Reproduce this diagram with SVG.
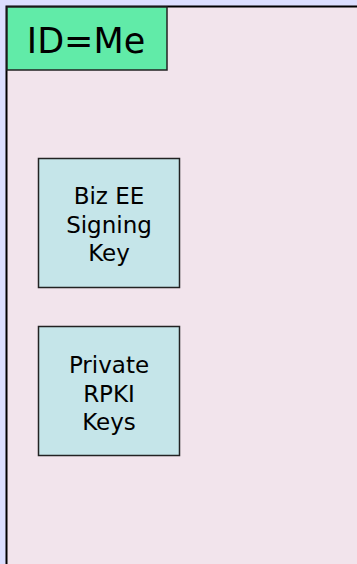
<svg xmlns="http://www.w3.org/2000/svg" width="357" height="564" viewBox="0 0 357 564">
  <style>
    .frame { fill: #F2E4EC; stroke: #000; stroke-width: 2; }
    .tag { fill: #61EBA8; stroke: #222; stroke-width: 1.5; }
    .key { fill: #C5E5E9; stroke: #222; stroke-width: 1.5; }
    text { font-family: "Comic Sans MS", "DejaVu Sans", sans-serif; fill: #000; text-anchor: middle; }
    .title { font-size: 35px; }
    .label { font-size: 23px; }
  </style>
  <!-- backdrop -->
  <rect x="0" y="0" width="357" height="564" fill="#DCDFFF"/>
  <!-- identity container, running off the right and bottom edges -->
  <g id="container">
    <rect class="frame" x="6.5" y="6.5" width="360" height="570"/>
    <rect class="tag" x="7" y="7" width="160" height="63"/>
    <text class="title" x="86" y="53">ID=Me</text>
  </g>
  <g id="biz-ee-key">
    <rect class="key" x="38.5" y="158.5" width="141" height="129"/>
    <text class="label" x="109" y="204">Biz EE</text>
    <text class="label" x="109" y="233">Signing</text>
    <text class="label" x="109" y="261">Key</text>
  </g>
  <g id="rpki-keys">
    <rect class="key" x="38.5" y="326.5" width="141" height="129"/>
    <text class="label" x="109" y="373">Private</text>
    <text class="label" x="109" y="402">RPKI</text>
    <text class="label" x="109" y="430">Keys</text>
  </g>
  <g id="connectors"/>
</svg>
